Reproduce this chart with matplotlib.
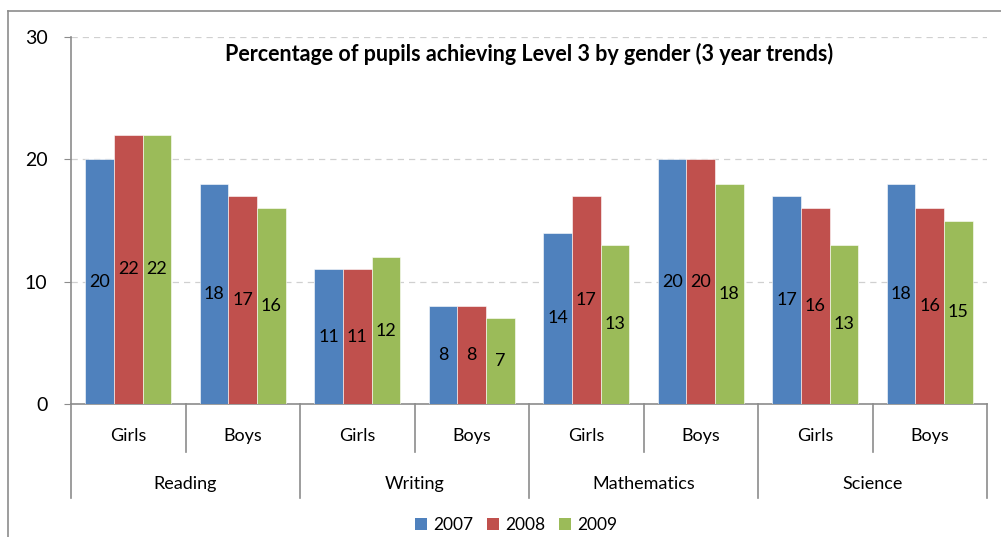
import matplotlib.pyplot as plt
import matplotlib.transforms as mtransforms
from matplotlib.lines import Line2D
from matplotlib.patches import Patch
import numpy as np

plt.rcParams['font.family'] = ['Lato', 'DejaVu Sans']

# ----------------------------
# data
# ----------------------------
subjects = ["Reading", "Writing", "Mathematics", "Science"]
genders = ["Girls", "Boys"]
years = ["2007", "2008", "2009"]
vals_2007 = [20, 18, 11, 8, 14, 20, 17, 18]
vals_2008 = [22, 17, 11, 8, 17, 20, 16, 16]
vals_2009 = [22, 16, 12, 7, 13, 18, 13, 15]
colors = ["#4F81BD", "#C0504D", "#9BBB59"]

series = [vals_2007, vals_2008, vals_2009]
n_cat = len(subjects) * len(genders)
x = np.arange(n_cat)
bar_w = 0.25

fig = plt.figure(figsize=(10.01, 5.37), dpi=100)
ax = fig.add_axes([71 / 1001, 133 / 537, 916 / 1001, 367 / 537])

for i, (vals, col) in enumerate(zip(series, colors)):
    pos = x + (i - 1) * bar_w
    bars = ax.bar(pos, vals, width=bar_w, color=col, edgecolor="white", linewidth=0.4, zorder=3)
    for b, v in zip(bars, vals):
        ax.text(b.get_x() + b.get_width() / 2, v / 2, str(v), ha="center", va="center",
                fontsize=13, color="black", zorder=4)

ax.set_xlim(-0.5, n_cat - 0.5)
ax.set_ylim(0, 30)
ax.set_yticks([0, 10, 20, 30])
ax.tick_params(axis="y", length=5, color="#8c8c8c", labelsize=14, pad=12)
ax.set_xticks([])
ax.yaxis.grid(True, linestyle=(0, (5, 4)), color="#d0d0d0", linewidth=0.9, zorder=0)
for s in ["top", "right"]:
    ax.spines[s].set_visible(False)
ax.spines["left"].set_color("#8c8c8c")
ax.spines["bottom"].set_color("#8c8c8c")
ax.spines["left"].set_linewidth(1.2)
ax.spines["bottom"].set_linewidth(1.2)

# two-level category axis
trans = mtransforms.blended_transform_factory(ax.transData, ax.transAxes)
inner_depth = -48 / 367
outer_depth = -94 / 367
for k in range(n_cat + 1):
    xb = k - 0.5
    depth = outer_depth if k % 2 == 0 else inner_depth
    ax.add_line(Line2D([xb, xb], [0, depth], transform=trans, color="#8c8c8c",
                       linewidth=1.2, clip_on=False))
for k in range(n_cat):
    ax.text(k, -32 / 367, genders[k % 2], transform=trans, ha="center", va="center", fontsize=13)
for j, subj in enumerate(subjects):
    ax.text(2 * j + 0.5, -80 / 367, subj, transform=trans, ha="center", va="center", fontsize=13)

ax.text(0.5, 0.955, "Percentage of pupils achieving Level 3 by gender (3 year trends)",
        transform=ax.transAxes, ha="center", va="center", fontsize=15.5, fontweight="bold")

handles = [Patch(facecolor=c, edgecolor="none") for c in colors]
fig.legend(handles, years, loc="center", bbox_to_anchor=(516 / 1001, 1 - 525 / 537), ncol=3,
           frameon=False, fontsize=12.5, handlelength=0.7, handleheight=0.7,
           handletextpad=0.35, columnspacing=0.8)

# chart border (left and top)
fig.add_artist(Line2D([8 / 1001, 8 / 1001], [0, 1 - 11 / 537], transform=fig.transFigure,
                      color="#8c8c8c", linewidth=1.2))
fig.add_artist(Line2D([8 / 1001, 1], [1 - 11 / 537, 1 - 11 / 537], transform=fig.transFigure,
                      color="#8c8c8c", linewidth=1.2))

fig.savefig("out.png", dpi=100)
